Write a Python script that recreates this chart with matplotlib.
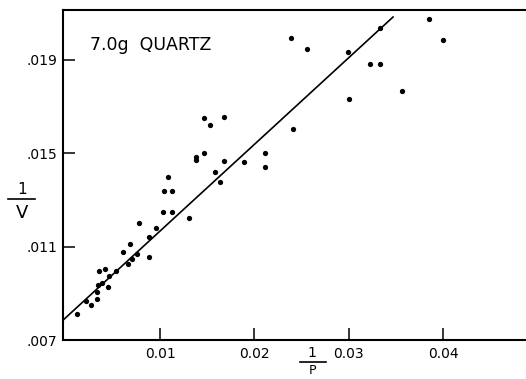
import matplotlib.pyplot as plt
from matplotlib.lines import Line2D

# inverse pressure (1/P) and inverse volume (1/V)
inv_p = [0.00123, 0.00212, 0.00268, 0.00335, 0.00329, 0.00346, 0.00382, 0.00449,
         0.00459, 0.00353, 0.00417, 0.00533, 0.00602, 0.00661, 0.00703, 0.00756,
         0.00878, 0.00685, 0.00780, 0.00880, 0.00961, 0.01027, 0.01130, 0.01311,
         0.01039, 0.01130, 0.01085, 0.01382, 0.01382, 0.01470, 0.01470, 0.01533,
         0.01682, 0.01679, 0.01583, 0.01636, 0.01888, 0.02110, 0.02110, 0.02386,
         0.02562, 0.02414, 0.02997, 0.03000, 0.03224, 0.03328, 0.03330, 0.03569,
         0.03852, 0.03998]
inv_v = [0.00810, 0.00868, 0.00850, 0.00874, 0.00904, 0.00935, 0.00943, 0.00926,
         0.00975, 0.00997, 0.01004, 0.00997, 0.01075, 0.01027, 0.01047, 0.01068,
         0.01056, 0.01110, 0.01200, 0.01141, 0.01182, 0.01247, 0.01247, 0.01221,
         0.01339, 0.01338, 0.01400, 0.01485, 0.01471, 0.01500, 0.01653, 0.01623,
         0.01654, 0.01468, 0.01420, 0.01377, 0.01461, 0.01501, 0.01441, 0.01993,
         0.01946, 0.01605, 0.01932, 0.01731, 0.01883, 0.01882, 0.02039, 0.01768,
         0.02075, 0.01985]

# fitted straight line
fit_x = [-0.0003, 0.0347]
fit_y = [0.00785, 0.02084]

xticks = [0.01, 0.02, 0.03, 0.04]
xtick_labels = ["0.01", "0.02", "0.03", "0.04"]
yticks = [0.007, 0.011, 0.015, 0.019]
ytick_labels = [".007", ".011", ".015", ".019"]

fig = plt.figure(figsize=(5.26, 3.79), dpi=100)
ax = fig.add_axes([0.1198, 0.1029, 0.8802, 0.8707])

ax.plot(inv_p, inv_v, 'o', color='black', markersize=3.8, markeredgewidth=0)
ax.plot(fit_x, fit_y, '-', color='black', linewidth=1.2)

ax.set_xlim(-0.0003, 0.0488)
ax.set_ylim(0.007, 0.02114)
ax.set_xticks(xticks)
ax.set_xticklabels(xtick_labels)
ax.set_yticks(yticks)
ax.set_yticklabels(ytick_labels)
ax.tick_params(direction='in', length=8.5, width=1.1, labelsize=10, color='black')
ax.tick_params(axis='x', pad=5)
ax.tick_params(axis='y', pad=4)

ax.spines['right'].set_visible(False)
for s in ['left', 'bottom', 'top']:
    ax.spines[s].set_linewidth(1.5)

ax.text(0.058, 0.895, "7.0g  QUARTZ", transform=ax.transAxes, fontsize=12.5,
        va='center', ha='left')

# axis labels drawn as stacked fractions
W, H = 526.0, 379.0
fig.text(22 / W, 1 - 189 / H, "1", fontsize=11, ha='center', va='center')
fig.add_artist(Line2D([8 / W, 35 / W], [1 - 199 / H, 1 - 199 / H],
                      color='black', linewidth=1.2))
fig.text(22 / W, 1 - 213 / H, "V", fontsize=13, ha='center', va='center')

fig.text(312 / W, 1 - 353 / H, "1", fontsize=10, ha='center', va='center')
fig.add_artist(Line2D([300 / W, 326 / W], [1 - 362 / H, 1 - 362 / H],
                      color='black', linewidth=1.2))
fig.text(312 / W, 1 - 364 / H, "P", fontsize=9, ha='center', va='top')

fig.savefig("out.png", dpi=100)
